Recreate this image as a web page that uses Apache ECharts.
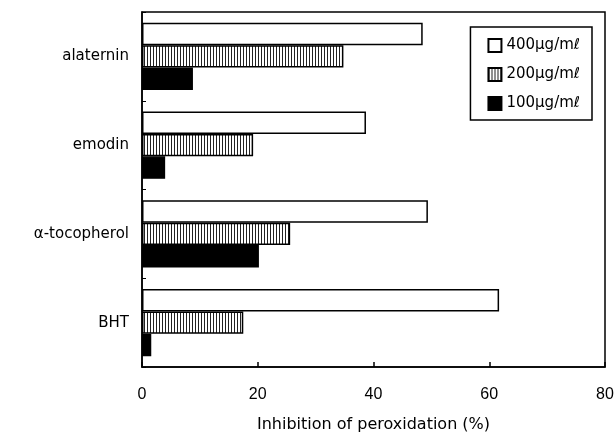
<!DOCTYPE html>
<html>
<head>
<meta charset="utf-8">
<script src="https://cdn.jsdelivr.net/npm/echarts@6/dist/echarts.min.js"></script>
<style>
  html, body { margin: 0; padding: 0; background: #fff; }
  #chart { width: 616px; height: 433px; }
</style>
</head>
<body>
<div id="chart"></div>
<script>
var categories = ['alaternin', 'emodin', 'α-tocopherol', 'BHT'];
var seriesNames = ['400μg/mℓ', '200μg/mℓ', '100μg/mℓ'];
var values400 = [48.5, 38.7, 49.4, 61.7];
var values200 = [34.8, 19.2, 25.6, 17.5];
var values100 = [8.8, 4.0, 20.2, 1.6];
var xTicks = [0, 20, 40, 60, 80];

// vertical hatch for the 200 series
function hatch() {
    var c = document.createElement('canvas');
    c.width = 3;
    c.height = 4;
    var ctx = c.getContext('2d');
    ctx.fillStyle = '#fff';
    ctx.fillRect(0, 0, 3, 4);
    ctx.fillStyle = '#222';
    ctx.fillRect(0, 0, 1, 4);
    return c;
}

var font = 'DejaVu Sans';

function bar(name, data, color) {
    return {
        name: name,
        type: 'bar',
        data: data,
        barGap: '0%',
        barCategoryGap: '24%',
        itemStyle: { color: color, borderColor: '#000', borderWidth: 1.5 },
        emphasis: { disabled: true },
        animation: false
    };
}

var option = {
    animation: false,
    grid: {
        left: 142, right: 11, top: 12, bottom: 66,
        outerBoundsMode: 'none',
        show: true, borderColor: '#000', borderWidth: 1.5, backgroundColor: 'transparent'
    },
    legend: {
        right: 24, top: 27,
        orient: 'vertical',
        itemWidth: 13, itemHeight: 13, itemGap: 14,
        padding: [11, 12, 9, 17],
        borderColor: '#000', borderWidth: 1.5,
        icon: 'rect',
        textStyle: { fontFamily: font, fontSize: 15, color: '#000' },
        data: seriesNames
    },
    xAxis: {
        type: 'value',
        min: 0, max: 80, interval: 20,
        name: 'Inhibition of peroxidation (%)',
        nameLocation: 'middle',
        nameGap: 50,
        nameTextStyle: { fontFamily: font, fontSize: 16, color: '#000' },
        axisLine: { show: true, lineStyle: { color: '#000', width: 1.5 } },
        axisTick: { show: true, inside: true, length: 5, lineStyle: { color: '#000', width: 1.5 } },
        axisLabel: {
            fontFamily: 'Liberation Sans', fontSize: 16, color: '#000', margin: 20,
            formatter: function (v) { return xTicks.indexOf(v) >= 0 ? String(v) : ''; }
        },
        splitLine: { show: false }
    },
    yAxis: {
        type: 'category',
        inverse: true,
        data: categories,
        axisLine: { show: true, lineStyle: { color: '#000', width: 1.5 } },
        axisTick: { show: true, inside: true, length: 4, lineStyle: { color: '#000', width: 1 } },
        axisLabel: { fontFamily: font, fontSize: 15, color: '#000', margin: 13 }
    },
    series: [
        bar(seriesNames[0], values400, '#fff'),
        bar(seriesNames[1], values200, { image: hatch(), repeat: 'repeat' }),
        bar(seriesNames[2], values100, '#000')
    ]
};

echarts.init(document.getElementById('chart')).setOption(option);
</script>
</body>
</html>
